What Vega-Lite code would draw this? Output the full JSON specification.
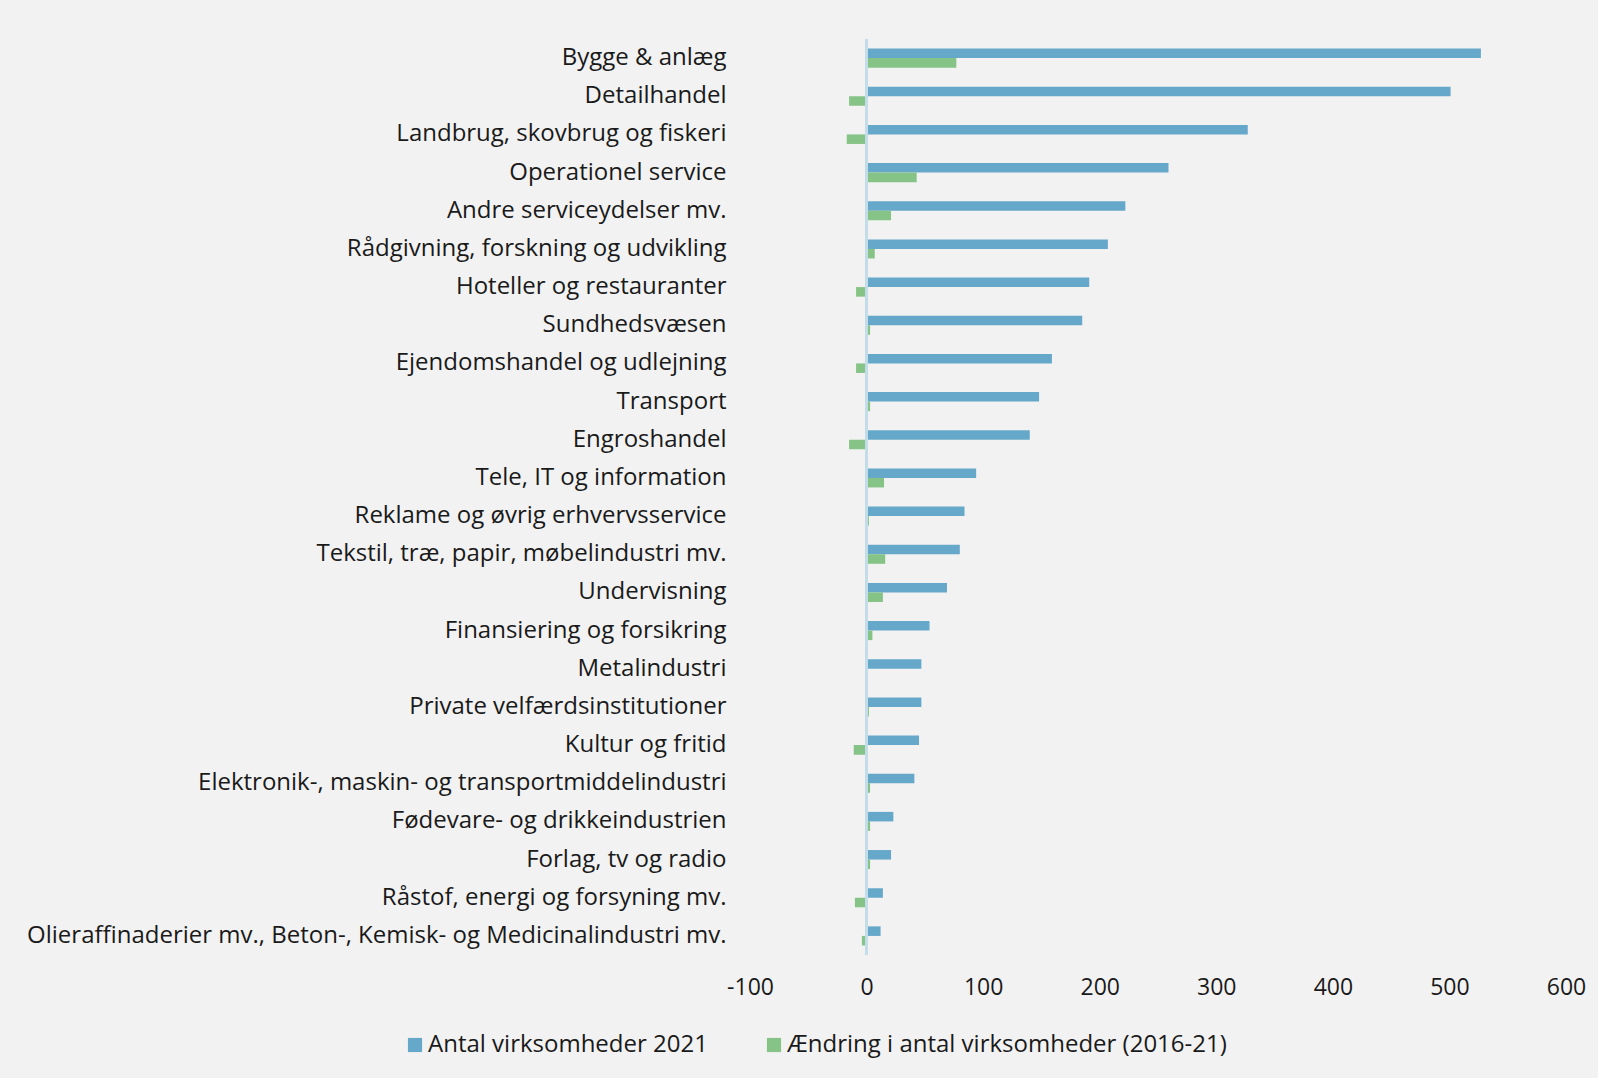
{
  "$schema": "https://vega.github.io/schema/vega-lite/v6.json",
  "autosize": {"type": "none"},
  "width": 816,
  "height": 916,
  "padding": {"left": 750, "top": 39, "right": 32, "bottom": 123},
  "background": "#f2f2f2",
  "config": {
    "view": {"stroke": null},
    "font": "Open Sans",
    "axis": {"labelFont": "Open Sans", "labelColor": "#1a1a1a"},
    "legend": {"labelFont": "Open Sans", "labelColor": "#1a1a1a"}
  },
  "data": {
    "values": [
      {"cat": "Bygge & anlæg", "series": "Antal virksomheder 2021", "value": 527},
      {"cat": "Bygge & anlæg", "series": "Ændring i antal virksomheder (2016-21)", "value": 77},
      {"cat": "Detailhandel", "series": "Antal virksomheder 2021", "value": 501},
      {"cat": "Detailhandel", "series": "Ændring i antal virksomheder (2016-21)", "value": -15},
      {"cat": "Landbrug, skovbrug og fiskeri", "series": "Antal virksomheder 2021", "value": 327},
      {"cat": "Landbrug, skovbrug og fiskeri", "series": "Ændring i antal virksomheder (2016-21)", "value": -17},
      {"cat": "Operationel service", "series": "Antal virksomheder 2021", "value": 259},
      {"cat": "Operationel service", "series": "Ændring i antal virksomheder (2016-21)", "value": 43},
      {"cat": "Andre serviceydelser mv.", "series": "Antal virksomheder 2021", "value": 222},
      {"cat": "Andre serviceydelser mv.", "series": "Ændring i antal virksomheder (2016-21)", "value": 21},
      {"cat": "Rådgivning, forskning og udvikling", "series": "Antal virksomheder 2021", "value": 207},
      {"cat": "Rådgivning, forskning og udvikling", "series": "Ændring i antal virksomheder (2016-21)", "value": 7},
      {"cat": "Hoteller og restauranter", "series": "Antal virksomheder 2021", "value": 191},
      {"cat": "Hoteller og restauranter", "series": "Ændring i antal virksomheder (2016-21)", "value": -9},
      {"cat": "Sundhedsvæsen", "series": "Antal virksomheder 2021", "value": 185},
      {"cat": "Sundhedsvæsen", "series": "Ændring i antal virksomheder (2016-21)", "value": 3},
      {"cat": "Ejendomshandel og udlejning", "series": "Antal virksomheder 2021", "value": 159},
      {"cat": "Ejendomshandel og udlejning", "series": "Ændring i antal virksomheder (2016-21)", "value": -9},
      {"cat": "Transport", "series": "Antal virksomheder 2021", "value": 148},
      {"cat": "Transport", "series": "Ændring i antal virksomheder (2016-21)", "value": 3},
      {"cat": "Engroshandel", "series": "Antal virksomheder 2021", "value": 140},
      {"cat": "Engroshandel", "series": "Ændring i antal virksomheder (2016-21)", "value": -15},
      {"cat": "Tele, IT og information", "series": "Antal virksomheder 2021", "value": 94},
      {"cat": "Tele, IT og information", "series": "Ændring i antal virksomheder (2016-21)", "value": 15},
      {"cat": "Reklame og øvrig erhvervsservice", "series": "Antal virksomheder 2021", "value": 84},
      {"cat": "Reklame og øvrig erhvervsservice", "series": "Ændring i antal virksomheder (2016-21)", "value": 2},
      {"cat": "Tekstil, træ, papir, møbelindustri mv.", "series": "Antal virksomheder 2021", "value": 80},
      {"cat": "Tekstil, træ, papir, møbelindustri mv.", "series": "Ændring i antal virksomheder (2016-21)", "value": 16},
      {"cat": "Undervisning", "series": "Antal virksomheder 2021", "value": 69},
      {"cat": "Undervisning", "series": "Ændring i antal virksomheder (2016-21)", "value": 14},
      {"cat": "Finansiering og forsikring", "series": "Antal virksomheder 2021", "value": 54},
      {"cat": "Finansiering og forsikring", "series": "Ændring i antal virksomheder (2016-21)", "value": 5},
      {"cat": "Metalindustri", "series": "Antal virksomheder 2021", "value": 47},
      {"cat": "Metalindustri", "series": "Ændring i antal virksomheder (2016-21)", "value": 1},
      {"cat": "Private velfærdsinstitutioner", "series": "Antal virksomheder 2021", "value": 47},
      {"cat": "Private velfærdsinstitutioner", "series": "Ændring i antal virksomheder (2016-21)", "value": 2},
      {"cat": "Kultur og fritid", "series": "Antal virksomheder 2021", "value": 45},
      {"cat": "Kultur og fritid", "series": "Ændring i antal virksomheder (2016-21)", "value": -11},
      {"cat": "Elektronik-, maskin- og transportmiddelindustri", "series": "Antal virksomheder 2021", "value": 41},
      {"cat": "Elektronik-, maskin- og transportmiddelindustri", "series": "Ændring i antal virksomheder (2016-21)", "value": 3},
      {"cat": "Fødevare- og drikkeindustrien", "series": "Antal virksomheder 2021", "value": 23},
      {"cat": "Fødevare- og drikkeindustrien", "series": "Ændring i antal virksomheder (2016-21)", "value": 3},
      {"cat": "Forlag, tv og radio", "series": "Antal virksomheder 2021", "value": 21},
      {"cat": "Forlag, tv og radio", "series": "Ændring i antal virksomheder (2016-21)", "value": 3},
      {"cat": "Råstof, energi og forsyning mv.", "series": "Antal virksomheder 2021", "value": 14},
      {"cat": "Råstof, energi og forsyning mv.", "series": "Ændring i antal virksomheder (2016-21)", "value": -10},
      {"cat": "Olieraffinaderier mv., Beton-, Kemisk- og Medicinalindustri mv.", "series": "Antal virksomheder 2021", "value": 12},
      {"cat": "Olieraffinaderier mv., Beton-, Kemisk- og Medicinalindustri mv.", "series": "Ændring i antal virksomheder (2016-21)", "value": -4}
    ]
  },
  "layer": [
    {
      "mark": {"type": "bar"},
      "encoding": {
        "y": {
          "field": "cat",
          "type": "nominal",
          "sort": null,
          "scale": {"paddingInner": 0.5, "paddingOuter": 0.25},
          "axis": {
            "title": null,
            "domain": false,
            "ticks": false,
            "labelPadding": 24,
            "labelFontSize": 24,
            "labelLimit": 800
          }
        },
        "yOffset": {"field": "series", "type": "nominal", "sort": null},
        "x": {
          "field": "value",
          "type": "quantitative",
          "scale": {"domain": [-100, 600], "nice": false, "zero": false},
          "axis": {
            "title": null,
            "values": [-100, 0, 100, 200, 300, 400, 500, 600],
            "labelExpr": "replace(datum.label, '−', '-')",
            "grid": false,
            "domain": false,
            "ticks": false,
            "labelPadding": 21,
            "labelFontSize": 23,
            "labelFlush": false
          }
        },
        "color": {
          "field": "series",
          "type": "nominal",
          "sort": null,
          "scale": {
            "domain": ["Antal virksomheder 2021", "Ændring i antal virksomheder (2016-21)"],
            "range": ["#66a8c9", "#86c386"]
          },
          "legend": {
            "title": null,
            "orient": "none",
            "direction": "horizontal",
            "legendX": -347,
            "legendY": 994,
            "symbolType": "square",
            "symbolSize": 200,
            "symbolStrokeWidth": 0,
            "labelFontSize": 24,
            "labelOffset": 1,
            "columnPadding": 54,
            "labelLimit": 600
          }
        }
      }
    },
    {
      "mark": {"type": "rule", "color": "#c3dde8", "strokeWidth": 2},
      "encoding": {
        "x": {"datum": 0, "type": "quantitative"}
      }
    }
  ]
}
